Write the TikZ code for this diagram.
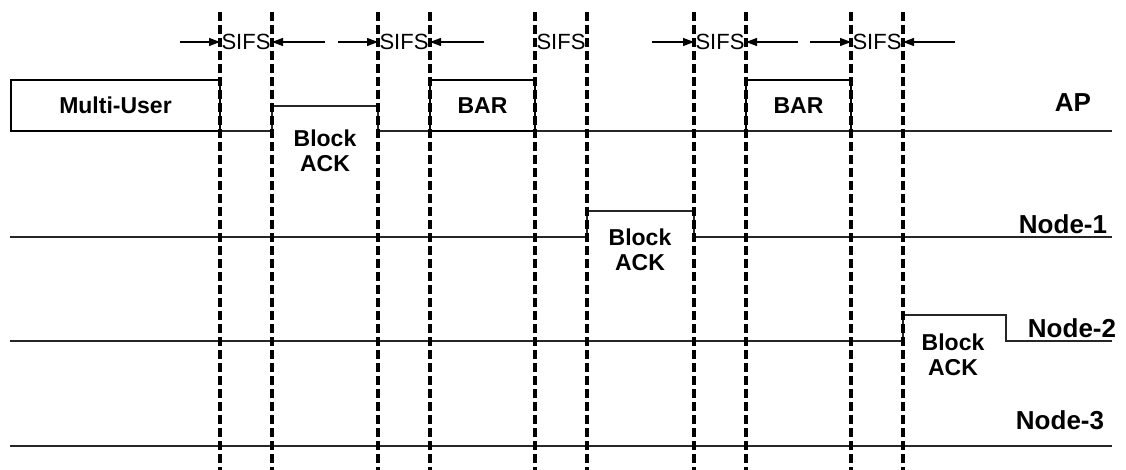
\documentclass[tikz,border=0pt]{standalone}
\usepackage{fontspec}
\setmainfont{Liberation Sans}
\usetikzlibrary{arrows.meta}
\begin{document}
\begin{tikzpicture}[x=1pt,y=-1pt,
  sig/.style={line width=1.6pt, line join=miter, draw=black!85},
  frame/.style={draw, line width=1.3pt, inner sep=0pt, outer sep=0pt, anchor=north west,
    font=\fontsize{23}{25}\selectfont\bfseries},
  vdash/.style={line width=3.4pt, dash pattern=on 9pt off 4pt},
  boxtxt/.style={inner sep=0pt, align=center, font=\fontsize{23}{25}\selectfont\bfseries},
  lbl/.style={inner sep=0pt, font=\fontsize{26}{28}\selectfont\bfseries},
  sifs/.style={inner sep=0pt, font=\fontsize{22}{24}\selectfont},
  arr/.style={line width=1.3pt, -{Triangle[length=11pt,width=8pt]}}
]
\useasboundingbox (0,0) rectangle (1126,470);

% AP
\node[frame, minimum width=209pt, minimum height=51pt] (mu) at (11,80) {Multi-User};
\node[frame, minimum width=105pt, minimum height=51pt] (bar1) at (430,80) {BAR};
\node[frame, minimum width=105pt, minimum height=51pt] (bar2) at (746,80) {BAR};
\coordinate (apend) at (1112,131);
\draw[sig] (mu.south east) -- (272,131) -- (272,106) -- (378,106) -- (378,131) -- (bar1.south west);
\draw[sig] (bar1.south east) -- (apend);
\node[boxtxt] (ackap) at (325,151) {Block\\ACK};
\node[lbl] (ap) at (1073,103) {AP};

% Node-1
\coordinate (n1s) at (10,237);
\coordinate (n1e) at (1112,237);
\draw[sig] (n1s) -- (587,237) -- (587,211) -- (694,211) -- (694,237) -- (n1e);
\node[boxtxt] (ack1) at (640,250) {Block\\ACK};
\node[lbl] (l1) at (1063,224) {Node-1};

% Node-2
\coordinate (n2s) at (10,341);
\coordinate (n2e) at (1112,341);
\draw[sig] (n2s) -- (903,341) -- (903,315) -- (1006,315) -- (1006,341) -- (n2e);
\node[boxtxt] (ack2) at (953,355) {Block\\ACK};
\node[lbl] (l2) at (1072,328) {Node-2};

% Node-3
\coordinate (n3s) at (10,446);
\coordinate (n3e) at (1112,446);
\draw[sig] (n3s) -- (n3e);
\node[lbl] (l3) at (1060,420) {Node-3};

% dashed time marks
\foreach \x [count=\i] in {220,272,378,430,535,587,694,746,851,903} {
  \coordinate (t\i) at (\x,12);
  \coordinate (b\i) at (\x,470);
  \draw[vdash] (t\i) -- (b\i);
}

% SIFS labels
\foreach \a/\b [count=\i] in {220/272,378/430,535/587,694/746,851/903}
  \node[sifs] (s\i) at ({(\a+\b)/2},42) {SIFS};

% SIFS arrows
\foreach \l/\a/\b/\r in {180/220/272/325, 338/378/430/484, 652/694/746/798, 810/851/903/955} {
  \coordinate (la) at (\l,42);
  \coordinate (lb) at (\a,42);
  \coordinate (rb) at (\b,42);
  \coordinate (ra) at (\r,42);
  \draw[arr] (la) -- (lb);
  \draw[arr] (ra) -- (rb);
}
\end{tikzpicture}
\end{document}
